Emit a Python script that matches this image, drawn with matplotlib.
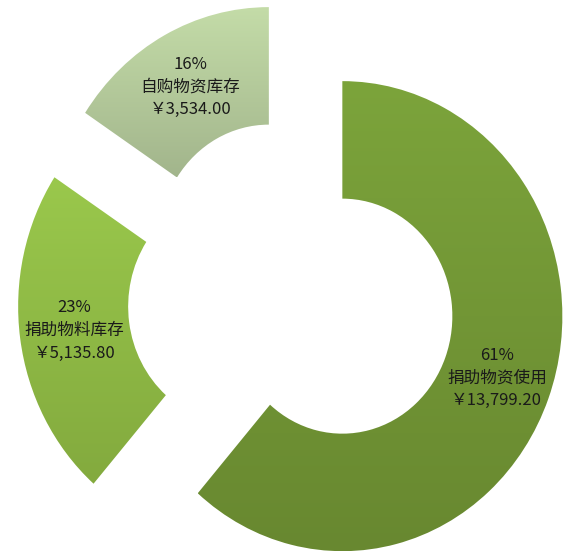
import numpy as np
import matplotlib.pyplot as plt
from matplotlib.colors import LinearSegmentedColormap

plt.rcParams['font.family'] = ['Noto Sans CJK SC', 'DejaVu Sans']

# 数据
names = ['捐助物资使用', '捐助物料库存', '自购物资库存']
values = [13799.20, 5135.80, 3534.00]
explode = [0.22, 0.27, 0.27]

# 渐变色 (上 -> 下)
grads = [('#7ca43b', '#688830'),
         ('#9ac84c', '#83aa3e'),
         ('#c4dca8', '#a2b58c')]

total = sum(values)
labels = [f"{round(v / total * 100)}%\n{n}\n\uffe5{v:,.2f}" for n, v in zip(names, values)]

fig = plt.figure(figsize=(5.65, 5.53), dpi=100)
ax = fig.add_axes([0, 0, 1, 1])

wedges, texts = ax.pie(values, explode=explode, startangle=90, counterclock=False,
                       radius=1.0, labels=labels, labeldistance=0.75,
                       wedgeprops=dict(width=0.5, linewidth=0),
                       textprops=dict(fontsize=12, color='#1a1a1a'))

for w, (c_top, c_bot) in zip(wedges, grads):
    w.set_facecolor('none')
    x0, y0, x1, y1 = w.get_path().get_extents().extents
    cmap = LinearSegmentedColormap.from_list('g', [c_bot, c_top])
    grad = np.linspace(0, 1, 256).reshape(-1, 1)
    im = ax.imshow(grad, cmap=cmap, origin='lower', extent=[x0, x1, y0, y1],
                   aspect='auto', zorder=1, interpolation='bilinear')
    im.set_clip_path(w)

for t in texts:
    t.set_horizontalalignment('center')
    t.set_verticalalignment('center')
    t.set_linespacing(1.45)
    t.set_zorder(3)

ax.set_xlim(-1.35, 1.218)
ax.set_ylim(-1.085, 1.268)
ax.set_aspect('auto')
ax.axis('off')

fig.savefig('out.png', dpi=100, facecolor='white')
